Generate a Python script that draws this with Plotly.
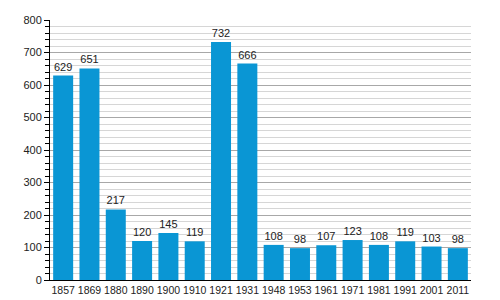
import plotly.graph_objects as go

years = ["1857", "1869", "1880", "1890", "1900", "1910", "1921", "1931",
         "1948", "1953", "1961", "1971", "1981", "1991", "2001", "2011"]
values = [629, 651, 217, 120, 145, 119, 732, 666, 108, 98, 107, 123, 108, 119, 103, 98]

fig = go.Figure(go.Bar(
    x=years, y=values,
    marker=dict(color="#0a96d4", line=dict(width=0)),
    text=[str(v) for v in values], textposition="outside", cliponaxis=False,
    textfont=dict(family="Liberation Sans, Arial", size=11, color="#222"),
))
fig.update_layout(
    width=500, height=300, margin=dict(l=50, r=29, t=20, b=20),
    paper_bgcolor="white", plot_bgcolor="white", bargap=0.24, showlegend=False,
    font=dict(family="Liberation Sans, Arial", size=11, color="#222"),
    xaxis=dict(type="category", showline=True, linecolor="black", linewidth=1,
               ticks="", tickangle=0, tickfont=dict(size=10.5), automargin=False),
    yaxis=dict(range=[0, 800], dtick=100, showline=True, linecolor="black", linewidth=1,
               ticks="outside", ticklen=5, tickcolor="black", gridcolor="#a8a8a8",
               zeroline=False, tickfont=dict(size=11), automargin=False,
               minor=dict(dtick=20, showgrid=True, gridcolor="#d6d6d6", ticks="outside",
                          ticklen=4, tickcolor="black")),
)
fig.write_html("out.html")
